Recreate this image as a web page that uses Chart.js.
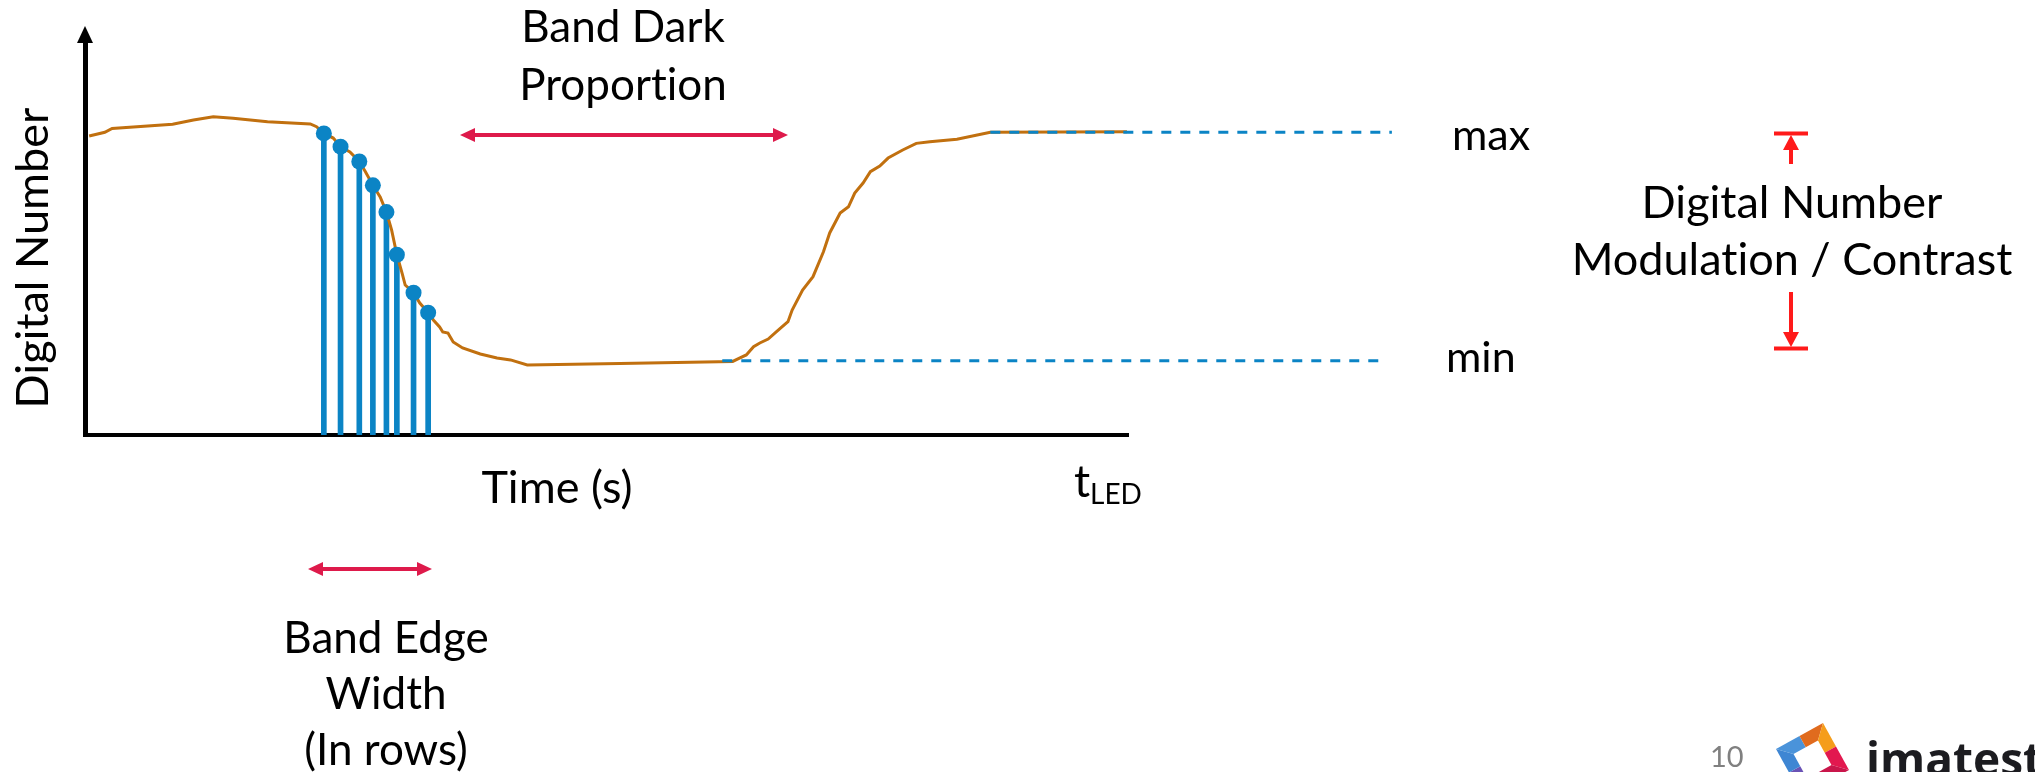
<!DOCTYPE html>
<html>
<head>
<meta charset="utf-8">
<script src="https://cdn.jsdelivr.net/npm/chart.js@4.4.1/dist/chart.umd.min.js"></script>
<style>
  html, body { margin: 0; padding: 0; background: #fff; }
  #wrap { width: 2035px; height: 772px; }
</style>
</head>
<body>
<div id="wrap"><canvas id="band-chart" width="2035" height="772"></canvas></div>
<script>
// time in % of t_LED, signal in digital number (DN)
const curveTimes = [0.4, 1.9, 2.6, 8.4, 10.4, 12.3, 14.2, 17.5, 21.6, 22.2, 22.9, 23.8, 24.5, 25.4, 26.3,
  26.9, 27.6, 28.3, 28.9, 29.4, 29.9, 30.4, 30.7, 31.5, 32.1, 32.9, 33.4, 34.0, 34.3, 34.8, 35.3, 36.2,
  37.9, 39.5, 40.8, 42.4, 51.3, 62.1, 62.8, 63.4, 64.1, 64.7, 65.5, 66.3, 67.4, 67.8, 68.8, 69.8, 70.8,
  71.4, 72.4, 73.2, 73.8, 74.6, 75.3, 76.2, 77.0, 78.4, 79.7, 81.0, 83.6, 86.8, 99.9];
const curveValues = [197.6, 200.0, 202.6, 205.3, 208.1, 210.3, 209.3, 207.0, 205.5, 203.7, 199.3, 196.2, 190.5, 187.0, 180.7,
  173.8, 165.0, 157.3, 147.3, 135.4, 119.1, 107.0, 99.1, 94.0, 87.2, 80.8, 76.0, 71.4, 68.1, 67.4, 61.5, 57.5,
  53.5, 50.9, 49.6, 46.3, 47.2, 48.6, 50.9, 52.9, 58.3, 60.8, 63.4, 68.3, 74.9, 82.6, 95.8, 104.6, 121.1,
  133.5, 146.7, 150.8, 159.9, 166.5, 174.0, 177.7, 183.0, 188.3, 192.7, 193.8, 195.4, 200.0, 200.4];

// sampled rows across the falling edge
const edgeTimes = [22.9, 24.5, 26.3, 27.6, 28.9, 29.9, 31.5, 32.9];
const edgeValues = [199.3, 190.5, 180.7, 165.0, 147.3, 119.1, 94.0, 80.8];

const maxLevel = 200;
const minLevel = 49;
const maxLineTimes = [86.8, 125.3];
const minLineTimes = [61.1, 124.4];

const timeRange = [0, 100];
const valueRange = [0, 261];

const BLUE = '#0B84C5';
const ORANGE = '#C1700F';
const CRIMSON = '#DE1A4B';
const RED = '#FF1A1A';
const FONT = 'Lato, "Open Sans", sans-serif';

function pts(xs, ys) {
    return xs.map((x, i) => ({ x: x, y: Array.isArray(ys) ? ys[i] : ys }));
}

function hArrow(ctx, x1, x2, y) {
    const head = 15, half = 7;
    ctx.strokeStyle = CRIMSON;
    ctx.fillStyle = CRIMSON;
    ctx.lineWidth = 4;
    ctx.beginPath(); ctx.moveTo(x1 + head - 2, y); ctx.lineTo(x2 - head + 2, y); ctx.stroke();
    ctx.beginPath(); ctx.moveTo(x1, y); ctx.lineTo(x1 + head, y - half); ctx.lineTo(x1 + head, y + half); ctx.closePath(); ctx.fill();
    ctx.beginPath(); ctx.moveTo(x2, y); ctx.lineTo(x2 - head, y - half); ctx.lineTo(x2 - head, y + half); ctx.closePath(); ctx.fill();
}

function text(ctx, str, x, y, align, size, opts) {
    opts = opts || {};
    ctx.fillStyle = opts.color || '#000';
    ctx.font = (opts.weight || 'normal') + ' ' + size + 'px ' + (opts.family || FONT);
    ctx.textAlign = align;
    ctx.textBaseline = 'alphabetic';
    ctx.textRendering = 'optimizeSpeed';   // no "ti" ligature
    ctx.fillText(str, x, y);
}

const annotations = {
    id: 'annotations',
    afterDraw(chart) {
        const ctx = chart.ctx;
        const area = chart.chartArea;
        ctx.save();

        // arrow tip on the y axis
        ctx.fillStyle = '#000';
        ctx.beginPath();
        ctx.moveTo(area.left, 26);
        ctx.lineTo(area.left - 8, 43);
        ctx.lineTo(area.left + 8, 43);
        ctx.closePath();
        ctx.fill();

        // y axis title
        ctx.save();
        ctx.translate(48, 258);
        ctx.rotate(-Math.PI / 2);
        text(ctx, 'Digital Number', 0, 0, 'center', 45);
        ctx.restore();

        text(ctx, 'Time (s)', 557, 503, 'center', 45);
        text(ctx, 't', 1074, 497, 'left', 45);
        text(ctx, 'LED', 1090, 504, 'left', 28);

        text(ctx, 'Band Dark', 623, 42, 'center', 44);
        text(ctx, 'Proportion', 623, 100, 'center', 44);
        hArrow(ctx, 460, 788, 135);

        hArrow(ctx, 308, 432, 569);
        text(ctx, 'Band Edge', 386, 653, 'center', 44);
        text(ctx, 'Width', 386, 709, 'center', 44);
        text(ctx, '(In rows)', 386, 765, 'center', 44);

        text(ctx, 'max', 1452, 150, 'left', 43);
        text(ctx, 'min', 1446, 372, 'left', 43);

        text(ctx, 'Digital Number', 1792, 218, 'center', 45);
        text(ctx, 'Modulation / Contrast', 1792, 275, 'center', 45);

        // modulation span marker
        const mx = 1791;
        ctx.strokeStyle = RED;
        ctx.fillStyle = RED;
        ctx.lineWidth = 4;
        ctx.beginPath();
        ctx.moveTo(mx - 17, 133.5); ctx.lineTo(mx + 17, 133.5);
        ctx.moveTo(mx, 147); ctx.lineTo(mx, 164);
        ctx.moveTo(mx, 292); ctx.lineTo(mx, 335);
        ctx.moveTo(mx - 17, 348.5); ctx.lineTo(mx + 17, 348.5);
        ctx.stroke();
        ctx.beginPath();
        ctx.moveTo(mx, 135); ctx.lineTo(mx - 8, 150); ctx.lineTo(mx + 8, 150); ctx.closePath(); ctx.fill();
        ctx.beginPath();
        ctx.moveTo(mx, 347); ctx.lineTo(mx - 8, 332); ctx.lineTo(mx + 8, 332); ctx.closePath(); ctx.fill();

        // page number and logo
        text(ctx, '10', 1710, 767, 'left', 29, { color: '#808080' });
        const L = [1776, 749], T = [1823, 723], R = [1849, 770], B = [1802, 796];
        const outer = [L, T, R, B];
        const cx = 1812.5, cy = 759.5, k = 0.52;
        const inner = outer.map(p => [cx + (p[0] - cx) * k, cy + (p[1] - cy) * k]);
        const colors = [['#4A93DA', '#E06B1E'], ['#F59D1B', '#E2184F'], ['#C9164B', '#8E2A80'], ['#6A52B5', '#3E86D3']];
        for (let i = 0; i < 4; i++) {
            const o1 = outer[i], o2 = outer[(i + 1) % 4];
            const i1 = inner[i], i2 = inner[(i + 1) % 4];
            const om = [(o1[0] + o2[0]) / 2, (o1[1] + o2[1]) / 2];
            const im = [(i1[0] + i2[0]) / 2, (i1[1] + i2[1]) / 2];
            [[o1, om, im, i1], [om, o2, i2, im]].forEach((q, j) => {
                ctx.fillStyle = colors[i][j];
                ctx.beginPath();
                ctx.moveTo(q[0][0], q[0][1]);
                for (let n = 1; n < 4; n++) ctx.lineTo(q[n][0], q[n][1]);
                ctx.closePath();
                ctx.fill();
            });
        }
        text(ctx, 'imatest', 1866, 776, 'left', 46, { weight: 'bold', family: '"Open Sans", sans-serif', color: '#1C1C20' });

        ctx.restore();
    }
};

const canvas = document.getElementById('band-chart');
new Chart(canvas.getContext('2d'), {
    type: 'scatter',
    data: {
        datasets: [
            {
                type: 'line',
                label: 'max',
                data: pts(maxLineTimes, maxLevel),
                borderColor: BLUE,
                borderWidth: 3,
                borderDash: [10, 9],
                pointRadius: 0,
                clip: false,
                order: 1
            },
            {
                type: 'line',
                label: 'min',
                data: pts(minLineTimes, minLevel),
                borderColor: BLUE,
                borderWidth: 3,
                borderDash: [10, 9],
                pointRadius: 0,
                clip: false,
                order: 1
            },
            {
                type: 'scatter',
                label: 'samples',
                data: pts(edgeTimes, edgeValues),
                backgroundColor: BLUE,
                borderWidth: 0,
                pointRadius: 8,
                pointHoverRadius: 8,
                order: 2
            },
            {
                type: 'line',
                label: 'signal',
                data: pts(curveTimes, curveValues),
                borderColor: ORANGE,
                borderWidth: 3,
                pointRadius: 0,
                tension: 0,
                order: 3
            },
            {
                type: 'bar',
                label: 'rows',
                data: pts(edgeTimes, edgeValues),
                backgroundColor: BLUE,
                barThickness: 5,
                borderWidth: 0,
                order: 4
            }
        ]
    },
    options: {
        responsive: false,
        animation: false,
        devicePixelRatio: 1,
        layout: { padding: { left: 85, top: 40, right: 907, bottom: 337 } },
        plugins: { legend: { display: false }, tooltip: { enabled: false } },
        scales: {
            x: {
                type: 'linear',
                min: timeRange[0],
                max: timeRange[1],
                offset: false,
                grid: { display: false, drawTicks: false },
                ticks: { display: false },
                border: { display: true, color: '#000', width: 4 }
            },
            y: {
                type: 'linear',
                min: valueRange[0],
                max: valueRange[1],
                grid: { display: false, drawTicks: false },
                ticks: { display: false },
                border: { display: true, color: '#000', width: 5 }
            }
        }
    },
    plugins: [annotations]
});
</script>
</body>
</html>
